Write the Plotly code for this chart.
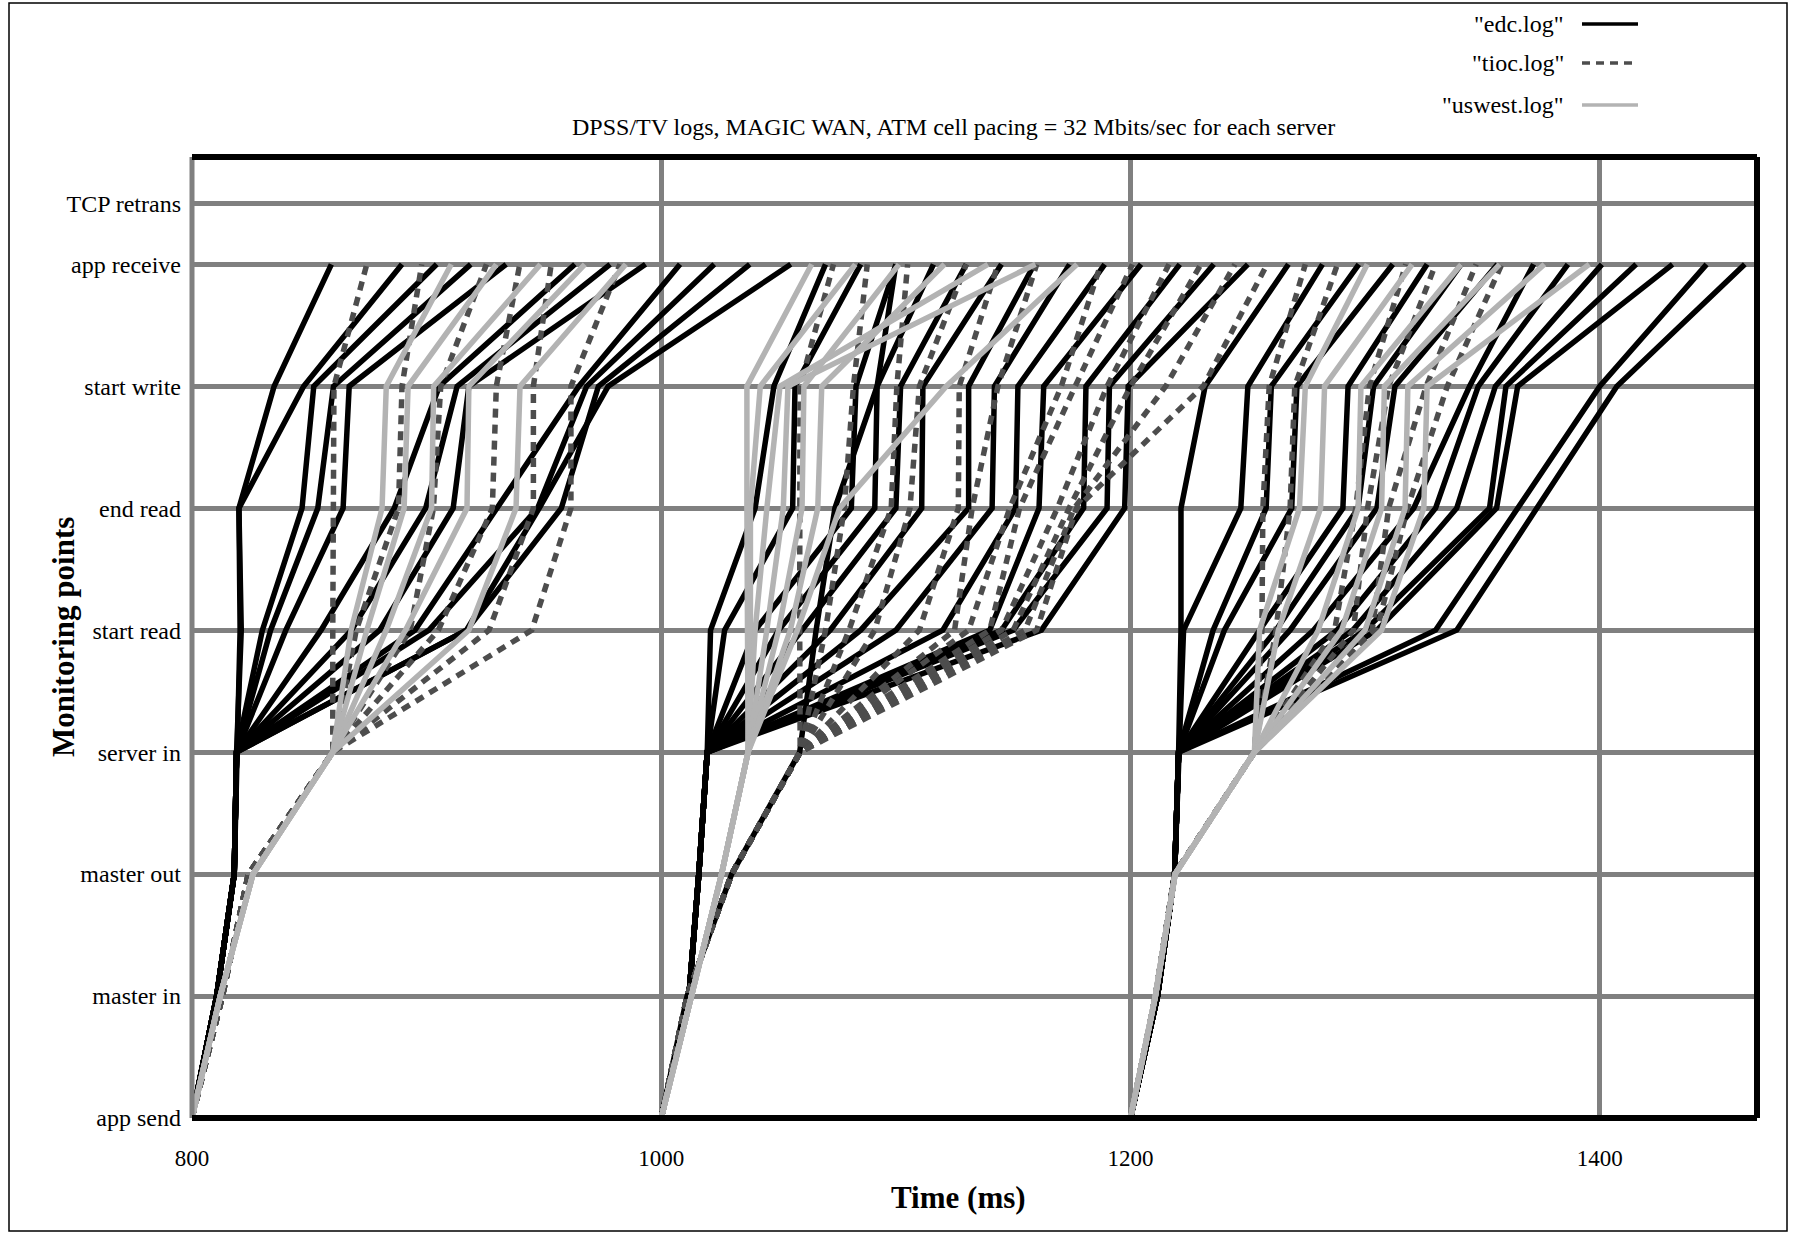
import plotly.graph_objects as go

# Monitoring points along the request path (y positions 0..7), plus the retransmit row
stages = ["app send", "master in", "master out", "server in",
          "start read", "end read", "start write", "app receive"]
retrans_label = "TCP retrans"
retrans_level = 7.5

# Time (ms) at which each request passed each monitoring point
edc_log = [
    # first request burst
    [800, 810.5, 818, 819, 820.5, 820, 835, 859.4],
    [800, 810.5, 818, 819, 821, 820, 847.6, 889.5],
    [800, 810.5, 818, 819, 830, 846.9, 851.9, 904.3],
    [800, 810.5, 818, 819, 833.5, 853.6, 860.3, 918.8],
    [800, 810.5, 818, 819, 840, 864.4, 867, 933.9],
    [800, 810.5, 818, 819, 855, 886.2, 905.4, 963.2],
    [800, 810.5, 818, 819, 868, 899.6, 913, 978.2],
    [800, 810.5, 818, 819, 880, 911.3, 918, 993.3],
    [800, 810.5, 818, 819, 895, 929.7, 964.9, 1008],
    [800, 810.5, 818, 819, 901, 947.3, 968.2, 1022.6],
    [800, 810.5, 818, 819, 917, 957.4, 973.2, 1037.7],
    [800, 810.5, 818, 819, 917, 948, 977.4, 1055.2],
    # second request burst
    [1000, 1011.8, 1016, 1019.6, 1021, 1040, 1048, 1070],
    [1000, 1011.8, 1016, 1019.6, 1027, 1056, 1057, 1085],
    [1000, 1011.8, 1016, 1019.6, 1040, 1081, 1083, 1100],
    [1000, 1011.8, 1016, 1019.6, 1050, 1091, 1092, 1116],
    [1000, 1011.8, 1016, 1019.6, 1060, 1100, 1102, 1130],
    [1000, 1011.8, 1016, 1019.6, 1072, 1111, 1111.5, 1145],
    [1000, 1011.8, 1016, 1019.6, 1085, 1131, 1131, 1159],
    [1000, 1011.8, 1016, 1019.6, 1100, 1141, 1142, 1174],
    [1000, 1011.8, 1016, 1019.6, 1120, 1151, 1152, 1189],
    [1000, 1011.8, 1016, 1019.6, 1140, 1161, 1163, 1204.5],
    [1000, 1011.8, 1016, 1019.6, 1145, 1180, 1181, 1221],
    [1000, 1011.8, 1016, 1019.6, 1150, 1190, 1191, 1235.5],
    [1000, 1011.8, 1016, 1019.6, 1162, 1197.5, 1199, 1250],
    [1000, 1011, 1030, 1059, 1066, 1074, 1092, 1100],
    # third request burst
    [1200, 1211.5, 1218.8, 1220.5, 1221.5, 1221.5, 1231.8, 1267.3],
    [1200, 1211.5, 1218.8, 1220.5, 1222.6, 1247, 1250, 1281.8],
    [1200, 1211.5, 1218.8, 1220.5, 1235.2, 1257.8, 1260, 1297.3],
    [1200, 1211.5, 1218.8, 1220.5, 1240, 1268.7, 1270.9, 1311.8],
    [1200, 1211.5, 1218.8, 1220.5, 1255, 1290.5, 1292.7, 1326.4],
    [1200, 1211.5, 1218.8, 1220.5, 1262, 1297, 1303.6, 1340.9],
    [1200, 1211.5, 1218.8, 1220.5, 1268, 1305, 1312.7, 1356.4],
    [1200, 1211.5, 1218.8, 1220.5, 1278, 1320.7, 1344.5, 1371.8],
    [1200, 1211.5, 1218.8, 1220.5, 1288, 1330, 1348.2, 1386.4],
    [1200, 1211.5, 1218.8, 1220.5, 1294.7, 1339, 1355.5, 1400.9],
    [1200, 1211.5, 1218.8, 1220.5, 1300, 1353, 1360, 1415.5],
    [1200, 1211.5, 1218.8, 1220.5, 1305, 1356, 1365, 1431],
    [1200, 1211.5, 1218.8, 1220.5, 1330, 1365, 1400, 1445.5],
    [1200, 1211.5, 1218.8, 1220.5, 1339, 1373, 1407.3, 1461.8],
]

tioc_log = [
    [800, 813, 824, 860, 860, 860, 860.5, 874.5],
    [800, 813, 824, 860, 870, 888, 889.5, 897.9],
    [800, 813, 824, 860, 893, 902.9, 906, 925.5],
    [800, 813, 824, 860, 905, 928, 929.7, 939.7],
    [800, 813, 824, 860, 926.6, 945.5, 945.5, 953.1],
    [800, 813, 824, 860, 944.8, 961.5, 961.5, 982.4],
    [1000, 1011, 1030, 1059.2, 1059, 1059, 1059.1, 1073.4],
    [1000, 1011, 1030, 1059.2, 1070, 1078, 1081.9, 1087.8],
    [1000, 1011, 1030, 1059.2, 1080, 1098, 1100.4, 1105],
    [1000, 1011, 1030, 1059.2, 1091, 1106, 1110, 1130],
    [1000, 1011, 1030, 1059.2, 1110, 1126.6, 1127, 1143.5],
    [1000, 1011, 1030, 1059.2, 1125, 1132.5, 1143.5, 1160],
    [1000, 1011, 1030, 1059.2, 1131, 1148.5, 1170.5, 1187.3],
    [1000, 1011, 1030, 1059.2, 1140, 1152.7, 1176.4, 1200.8],
    [1000, 1011, 1030, 1059.2, 1145, 1168.8, 1190, 1216.4],
    [1000, 1011, 1030, 1059.2, 1150, 1173.8, 1200, 1230],
    [1000, 1011, 1030, 1059.2, 1155, 1176, 1215, 1244.5],
    [1000, 1011, 1030, 1059.2, 1160, 1177, 1231, 1258.2],
    [1200, 1210.6, 1218.8, 1252.8, 1256, 1256.4, 1259.1, 1274.5],
    [1200, 1210.6, 1218.8, 1252.8, 1262, 1268, 1270, 1288.2],
    [1200, 1210.6, 1218.8, 1252.8, 1287, 1296, 1301.8, 1317.3],
    [1200, 1210.6, 1218.8, 1252.8, 1295, 1301, 1310, 1330],
    [1200, 1210.6, 1218.8, 1252.8, 1303, 1310, 1326, 1347.3],
    [1200, 1210.6, 1218.8, 1252.8, 1305, 1318, 1335, 1358.2],
]

uswest_log = [
    [800, 812, 826, 860, 867.8, 881, 882.8, 910.5],
    [800, 812, 826, 860, 874.5, 890.4, 892.1, 929.7],
    [800, 812, 826, 860, 882.8, 902.1, 903, 948.5],
    [800, 812, 826, 860, 891, 917.2, 918, 967.4],
    [800, 812, 826, 860, 918, 938.1, 939.8, 984.9],
    [1000, 1012.6, 1025.7, 1037, 1036.5, 1036.5, 1036.5, 1064.1],
    [1000, 1012.6, 1025.7, 1037, 1038, 1038, 1042.2, 1082.7],
    [1000, 1012.6, 1025.7, 1037, 1040, 1045, 1050.6, 1139.2],
    [1000, 1012.6, 1025.7, 1037, 1045, 1052, 1054, 1159.5],
    [1000, 1012.6, 1025.7, 1037, 1050, 1060, 1060.8, 1101.3],
    [1000, 1012.6, 1025.7, 1037, 1055, 1066.7, 1068.4, 1120.7],
    [1000, 1012.6, 1025.7, 1037, 1058, 1076, 1121.5, 1177.2],
    [1200, 1210.6, 1219, 1252.8, 1255, 1272, 1274.5, 1300.9],
    [1200, 1210.6, 1219, 1252.8, 1263, 1281, 1282.7, 1320],
    [1200, 1210.6, 1219, 1252.8, 1280, 1297, 1298.2, 1340.9],
    [1200, 1210.6, 1219, 1252.8, 1290, 1307, 1308.2, 1357.3],
    [1200, 1210.6, 1219, 1252.8, 1300, 1317, 1318.2, 1376.4],
    [1200, 1210.6, 1219, 1252.8, 1307, 1325, 1326.4, 1395.5],
]

x_ticks = [800, 1000, 1200, 1400]
x_range = [800, 1467]
y_range = [0, 7.88]

title_text = "DPSS/TV logs, MAGIC WAN, ATM cell pacing = 32 Mbits/sec for each server"
x_title = "Time (ms)"
y_title = "Monitoring points"

SERIF = "Liberation Serif, Times New Roman, serif"
GRID = "#808080"

series = [
    ('"edc.log"', edc_log, dict(color="#000000", width=5.5, dash="solid")),
    ('"tioc.log"', tioc_log, dict(color="#4d4d4d", width=5.5, dash="9px,7px")),
    ('"uswest.log"', uswest_log, dict(color="#b3b3b3", width=5.5, dash="solid")),
]


def polylines(rows):
    """Join request paths into one trace, separated by gaps."""
    xs, ys = [], []
    for row in rows:
        xs += list(row) + [None]
        ys += list(range(len(row))) + [None]
    return xs, ys


fig = go.Figure()
for name, rows, style in series:
    xs, ys = polylines(rows)
    fig.add_trace(go.Scatter(x=xs, y=ys, mode="lines", name=name,
                             line=style, connectgaps=False, hoverinfo="x+name",
                             showlegend=False))

# Pixel geometry of the plotting area
W, H = 1793, 1235
L, R, T, B = 192, 36, 157, 117
pw, ph = W - L - R, H - T - B


def px(x):
    return (x - L) / pw


def py(y):
    return (H - B - y) / ph


shapes = [
    # outer frame
    dict(type="rect", xref="paper", yref="paper", x0=px(9), x1=px(1787), y0=py(1231), y1=py(3),
         line=dict(color="#000000", width=1.5), layer="below"),
    # left edge of plot (grey), other three edges black
    dict(type="line", xref="paper", yref="paper", x0=0, x1=0, y0=0, y1=1,
         line=dict(color=GRID, width=5)),
    dict(type="line", xref="paper", yref="paper", x0=0, x1=1, y0=1, y1=1,
         line=dict(color="#000000", width=6)),
    dict(type="line", xref="paper", yref="paper", x0=1, x1=1, y0=0, y1=1,
         line=dict(color="#000000", width=6)),
    dict(type="line", xref="paper", yref="paper", x0=0, x1=1, y0=0, y1=0,
         line=dict(color="#000000", width=6)),
]

annotations = [
    dict(text=title_text, xref="paper", yref="paper", x=px(953), y=py(127),
         xanchor="center", yanchor="middle", showarrow=False,
         font=dict(family=SERIF, size=24, color="#000000")),
    dict(text="<b>%s</b>" % x_title, xref="paper", yref="paper", x=px(958), y=py(1197),
         xanchor="center", yanchor="middle", showarrow=False,
         font=dict(family=SERIF, size=31, color="#000000")),
    dict(text="<b>%s</b>" % y_title, xref="paper", yref="paper", x=px(63), y=py(637),
         xanchor="center", yanchor="middle", showarrow=False, textangle=-90,
         font=dict(family=SERIF, size=31, color="#000000")),
]

# Key in the top-right corner: label on the left, line sample on the right
key_rows = [24, 63, 105]
for (name, _, style), yk in zip(series, key_rows):
    annotations.append(dict(text=name, xref="paper", yref="paper", x=px(1566), y=py(yk),
                            xanchor="right", yanchor="middle", showarrow=False,
                            font=dict(family=SERIF, size=24, color="#000000")))
    shapes.append(dict(type="line", xref="paper", yref="paper",
                       x0=px(1582), x1=px(1638), y0=py(yk), y1=py(yk),
                       line=dict(color=style["color"], width=3.5,
                                 dash="8px,6px" if style["dash"] != "solid" else "solid")))

fig.update_layout(
    width=W, height=H,
    margin=dict(l=L, r=R, t=T, b=B, pad=0),
    paper_bgcolor="#ffffff", plot_bgcolor="#ffffff",
    showlegend=False,
    shapes=shapes,
    annotations=annotations,
    xaxis=dict(range=x_range, tickvals=x_ticks, ticktext=[str(v) for v in x_ticks],
               showgrid=True, gridcolor=GRID, gridwidth=4.5, zeroline=False,
               showline=False, ticks="", ticklabelstandoff=24,
               tickfont=dict(family=SERIF, size=23, color="#000000")),
    yaxis=dict(range=y_range,
               tickvals=list(range(len(stages))) + [retrans_level],
               ticktext=stages + [retrans_label],
               showgrid=True, gridcolor=GRID, gridwidth=4.5, zeroline=False,
               showline=False, ticks="", ticklabelstandoff=10,
               tickfont=dict(family=SERIF, size=24, color="#000000")),
)

fig.write_html("out.html")
